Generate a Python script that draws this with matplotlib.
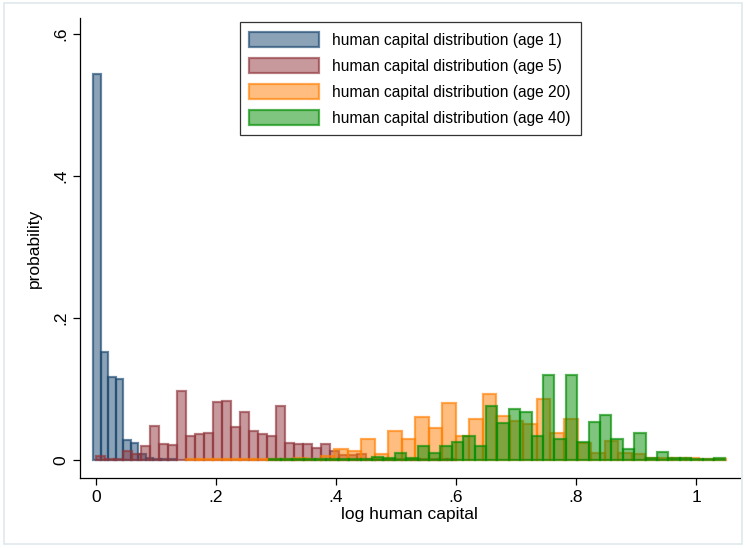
import matplotlib
matplotlib.use('Agg')
import matplotlib.pyplot as plt
import numpy as np
from matplotlib.patches import Rectangle

plt.rcParams['font.family'] = ['Liberation Sans', 'DejaVu Sans']

# histogram bins: start, width, heights (fractions)
age1_start, age1_width = -0.0045, 0.0125
age1_prob = [0.543, 0.152, 0.117, 0.114, 0.028, 0.0235, 0.008, 0.002, 0.001, 0.001, 0.001]

age5_start, age5_width = 0.0, 0.015
age5_prob = [0.005, 0.001, 0.001, 0.013, 0.0085, 0.019, 0.047, 0.0225, 0.0206, 0.097,
             0.034, 0.036, 0.0385, 0.081, 0.0836, 0.046, 0.0667, 0.040, 0.0366, 0.034,
             0.076, 0.0235, 0.023, 0.023, 0.016, 0.022, 0.0127, 0.007, 0.0066, 0.0085,
             0.001, 0.001, 0.001, 0.001, 0.001, 0.001, 0.001, 0.001, 0.001, 0.001]

age20_start, age20_width = 0.15, 0.0225
age20_prob = [0.001, 0.001, 0.001, 0.001, 0.001, 0.001, 0.001, 0.001, 0.002, 0.001,
              0.0056, 0.015, 0.012, 0.030, 0.0085, 0.0413, 0.0296, 0.060, 0.0455, 0.080,
              0.0338, 0.0573, 0.093, 0.062, 0.055, 0.0507, 0.0855, 0.0385, 0.0573, 0.024,
              0.010, 0.027, 0.010, 0.0085, 0.003, 0.002, 0.002, 0.002, 0.001, 0.001]

age40_start, age40_width = 0.289, 0.019
age40_prob = [0.001, 0.001, 0.001, 0.001, 0.001, 0.001, 0.001, 0.001, 0.001, 0.0035,
              0.002, 0.0094, 0.002, 0.0197, 0.0100, 0.019, 0.025, 0.0338, 0.0197, 0.076,
              0.052, 0.0713, 0.067, 0.0338, 0.1197, 0.030, 0.119, 0.0258, 0.054, 0.0634,
              0.0296, 0.015, 0.0385, 0.003, 0.0117, 0.002, 0.002, 0.001, 0.001, 0.002]

labels = ['human capital distribution (age 1)', 'human capital distribution (age 5)',
          'human capital distribution (age 20)', 'human capital distribution (age 40)']

series = [(age1_start, age1_width, age1_prob, (26/255, 71/255, 111/255)),
          (age5_start, age5_width, age5_prob, (144/255, 53/255, 59/255)),
          (age20_start, age20_width, age20_prob, (255/255, 127/255, 0/255)),
          (age40_start, age40_width, age40_prob, (0/255, 140/255, 0/255))]

fig = plt.figure(figsize=(7.46, 5.48), dpi=100)
fig.patches.append(Rectangle((0.006, 0.008), 0.988, 0.986, transform=fig.transFigure,
                             fill=False, edgecolor='#dfe9ec', linewidth=1.2))
ax = fig.add_axes([0.107, 0.128, 0.885, 0.839])

handles = []
for (start, width, prob, col), lab in zip(series, labels):
    left = start + width * np.arange(len(prob))
    b = ax.bar(left, prob, width=width, align='edge',
               facecolor=col + (0.5,), edgecolor=col + (0.65,), linewidth=1.6, label=lab)
    handles.append(b)

ax.set_xlim(-0.0267, 1.0733)
ax.set_ylim(-0.0254, 0.6225)
ax.set_xticks([0, 0.2, 0.4, 0.6, 0.8, 1.0])
ax.set_xticklabels(['0', '.2', '.4', '.6', '.8', '1'])
ax.set_yticks([0, 0.2, 0.4, 0.6])
ax.set_yticklabels(['0', '.2', '.4', '.6'], rotation=90, va='center')
ax.tick_params(labelsize=12.5, length=5, width=0.9, colors='black')
ax.spines['top'].set_visible(False)
ax.spines['right'].set_visible(False)
for s in ['left', 'bottom']:
    ax.spines[s].set_linewidth(0.9)

ax.set_xlabel('log human capital', fontsize=12.5, labelpad=2)
ax.set_ylabel('probability', fontsize=12.5, labelpad=8)

leg = ax.legend(handles=handles, loc='upper left', bbox_to_anchor=(0.242, 0.991),
                fontsize=11.2, handlelength=4.5, handleheight=1.1, labelspacing=0.66,
                handletextpad=0.85, borderpad=0.62, borderaxespad=0.0, fancybox=False,
                framealpha=1, edgecolor='#333333')
leg.get_frame().set_linewidth(0.9)

plt.savefig('out.png', dpi=100)
